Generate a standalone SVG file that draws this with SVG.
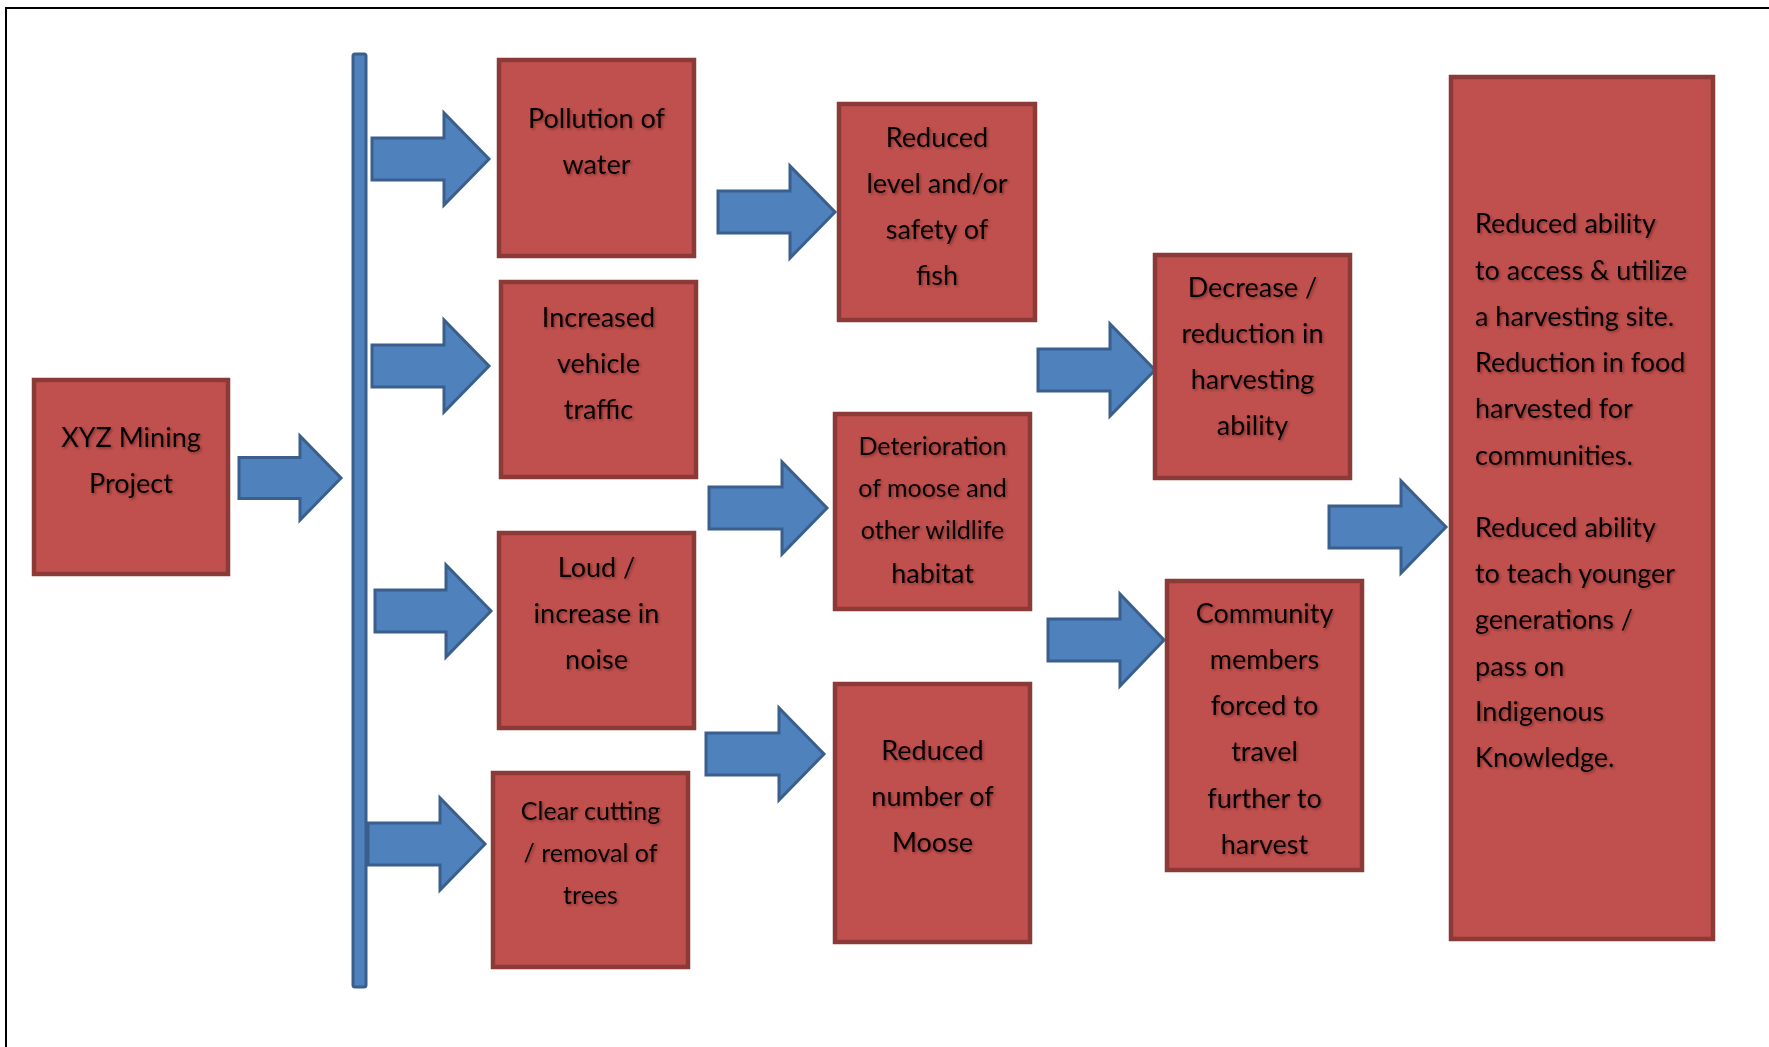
<svg xmlns="http://www.w3.org/2000/svg" width="1769" height="1047" viewBox="0 0 1769 1047">
<defs>
<filter id="ts" x="-10%" y="-20%" width="120%" height="140%">
<feDropShadow dx="1.5" dy="1.5" stdDeviation="1" flood-color="#5a1e1c" flood-opacity="0.6"/>
</filter>
</defs>
<style>
.box{fill:#c0504d;stroke:#8c3a38;stroke-width:4.5}
.arr{fill:#4f81bd;stroke:#3a5f8c;stroke-width:3;stroke-linejoin:miter}
text{font-family:Lato,"Noto Sans",sans-serif;font-size:27px;fill:#000;filter:url(#ts)}
.c{text-anchor:middle}
.s{font-size:25px}
</style>
<rect width="1769" height="1047" fill="#fff"/>
<path d="M6,1047 V8 H1769" fill="none" stroke="#000" stroke-width="2"/>

<g id="connectors">
<rect id="bar" x="353" y="54" width="13" height="933" rx="2" fill="#4f81bd" stroke="#3a5f8c" stroke-width="3"/>
<path class="arr" d="M239,457.5 H300 V436 L341,478 L300,520 V498.5 H239 Z"/>
<path class="arr" d="M372,138 H444 V113 L489,159 L444,205 V180 H372 Z"/>
<path class="arr" d="M372,345 H444 V320 L489,366 L444,412 V387 H372 Z"/>
<path class="arr" d="M375,590 H446 V565 L491,611 L446,657 V632 H375 Z"/>
<path class="arr" d="M368,823 H440 V798 L485,844 L440,890 V865 H368 Z"/>
<path class="arr" d="M718,191 H790 V166 L835,212 L790,258 V233 H718 Z"/>
<path class="arr" d="M709,487 H782 V462 L827,508 L782,554 V529 H709 Z"/>
<path class="arr" d="M706,733 H779 V708 L824,754 L779,800 V775 H706 Z"/>
<path class="arr" d="M1038,349 H1110 V324 L1155,370 L1110,416 V391 H1038 Z"/>
<path class="arr" d="M1048,619 H1120 V594 L1164,640 L1120,686 V661 H1048 Z"/>
<path class="arr" d="M1329,506 H1401 V481 L1446,527 L1401,573 V548 H1329 Z"/>
</g>

<g id="xyz">
<rect class="box" x="34" y="380" width="194" height="194"/>
<text class="c" x="131" y="447">XYZ Mining</text>
<text class="c" x="131" y="493">Project</text>
</g>

<g id="pollution">
<rect class="box" x="499" y="60" width="195" height="196"/>
<text class="c" x="596.5" y="127.5">Pollution of</text>
<text class="c" x="596.5" y="174">water</text>
</g>

<g id="traffic">
<rect class="box" x="501" y="282" width="195" height="195"/>
<text class="c" x="598.5" y="327">Increased</text>
<text class="c" x="598.5" y="373">vehicle</text>
<text class="c" x="598.5" y="419">traffic</text>
</g>

<g id="noise">
<rect class="box" x="499" y="533" width="195" height="195"/>
<text class="c" x="596.5" y="577">Loud /</text>
<text class="c" x="596.5" y="623">increase in</text>
<text class="c" x="596.5" y="669">noise</text>
</g>

<g id="clearcut">
<rect class="box" x="493" y="773" width="195" height="194"/>
<text class="c s" x="590.5" y="820">Clear cutting</text>
<text class="c s" x="590.5" y="862">/ removal of</text>
<text class="c s" x="590.5" y="904">trees</text>
</g>

<g id="fish">
<rect class="box" x="839" y="104" width="196" height="216"/>
<text class="c" x="937" y="147">Reduced</text>
<text class="c" x="937" y="193">level and/or</text>
<text class="c" x="937" y="239">safety of</text>
<text class="c" x="937" y="285">fish</text>
</g>

<g id="habitat">
<rect class="box" x="835" y="414" width="195" height="195"/>
<text class="c s" x="932.5" y="455">Deterioration</text>
<text class="c s" x="932.5" y="497">of moose and</text>
<text class="c s" x="932.5" y="539">other wildlife</text>
<text class="c" x="932.5" y="583">habitat</text>
</g>

<g id="moose">
<rect class="box" x="835" y="684" width="195" height="258"/>
<text class="c" x="932.5" y="760">Reduced</text>
<text class="c" x="932.5" y="806">number of</text>
<text class="c" x="932.5" y="852">Moose</text>
</g>

<g id="decrease">
<rect class="box" x="1155" y="255" width="195" height="223"/>
<text class="c" x="1252.5" y="297">Decrease /</text>
<text class="c" x="1252.5" y="343">reduction in</text>
<text class="c" x="1252.5" y="389">harvesting</text>
<text class="c" x="1252.5" y="435">ability</text>
</g>

<g id="community">
<rect class="box" x="1167" y="581" width="195" height="289"/>
<text class="c" x="1264.5" y="623">Community</text>
<text class="c" x="1264.5" y="669">members</text>
<text class="c" x="1264.5" y="715">forced to</text>
<text class="c" x="1264.5" y="761">travel</text>
<text class="c" x="1264.5" y="808">further to</text>
<text class="c" x="1264.5" y="854">harvest</text>
</g>

<g id="outcomes">
<rect class="box" x="1451" y="77" width="262" height="862"/>
<text x="1475" y="233">Reduced ability</text>
<text x="1475" y="280">to access &amp; utilize</text>
<text x="1475" y="326">a harvesting site.</text>
<text x="1475" y="372">Reduction in food</text>
<text x="1475" y="418">harvested for</text>
<text x="1475" y="465">communities.</text>
<text x="1475" y="537">Reduced ability</text>
<text x="1475" y="583">to teach younger</text>
<text x="1475" y="629">generations /</text>
<text x="1475" y="676">pass on</text>
<text x="1475" y="721">Indigenous</text>
<text x="1475" y="767">Knowledge.</text>
</g>
</svg>
